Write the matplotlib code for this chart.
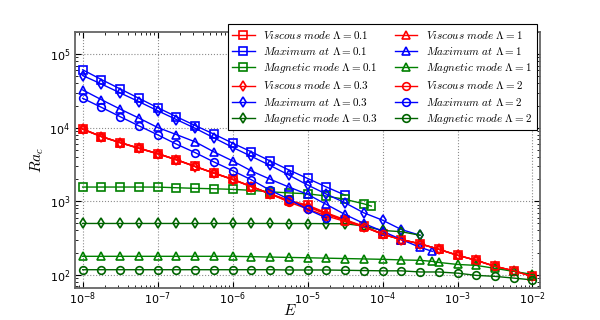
import matplotlib
matplotlib.use("Agg")
import matplotlib.pyplot as plt
from matplotlib.font_manager import FontProperties

# Ekman numbers (grid of the computations)
E_grid = [1e-8, 1.78e-8, 3.16e-8, 5.62e-8, 1e-7, 1.78e-7, 3.16e-7, 5.62e-7,
          1e-6, 1.78e-6, 3.16e-6, 5.62e-6, 1e-5, 1.78e-5, 3.16e-5, 5.62e-5,
          1e-4, 1.78e-4, 3.16e-4, 5.62e-4, 1e-3, 1.78e-3, 3.16e-3, 5.62e-3, 1e-2]

# Lambda = 0.1
visc_01 = [9570, 7580, 6280, 5260, 4440, 3670, 2970, 2420, 1985, 1583, 1262, 1025, 885,
           695, 561, 457, 359, 301, 264, 222, 184, 157, 130, 113, 95]
E_max_01 = E_grid[:15]
max_01 = [61200, 45100, 33700, 25100, 18700, 14100, 10700, 8180, 6160, 4690, 3530, 2660,
          2040, 1560, 1210]
E_mag_01 = E_grid[:16] + [7.08e-5]
mag_01 = [1558, 1558, 1558, 1558, 1555, 1524, 1496, 1476, 1449, 1405, 1343, 1297, 1262,
          1174, 1059, 921, 857]

# Lambda = 0.3
visc_03 = [9500, 7520, 6230, 5220, 4400, 3640, 2950, 2400, 1970, 1570, 1250, 1000, 860,
           680, 550, 452, 357, 300, 263, 222, 184, 157, 130, 113, 95]
E_max_03 = E_grid[:19]
max_03 = [51200, 39200, 29700, 22600, 17000, 12900, 9820, 7280, 5400, 4070, 3070, 2270,
          1660, 1250, 951, 695, 552, 412, 344]
E_mag_03 = E_grid[:19]
mag_03 = [498, 498, 498, 498, 498, 498, 498, 498, 498, 498, 498, 497, 497, 495, 494,
          460, 400, 385, 344]

# Lambda = 1
visc_1 = [9570, 7580, 6280, 5260, 4440, 3670, 2970, 2420, 1985, 1583, 1262, 1010, 840,
          665, 545, 450, 356, 300, 263, 222, 184, 157, 130, 113, 95]
E_max_1 = E_grid[:19] + [4.6e-4]
max_1 = [32600, 24000, 17900, 13500, 10060, 8050, 6420, 4690, 3530, 2580, 1990, 1560,
         1240, 904, 660, 498, 391, 301, 236, 208]
E_mag_1 = E_grid[:19] + [4.6e-4] + E_grid[19:]
mag_1 = [178, 178, 178, 178, 178, 178, 178, 178, 178, 176, 174, 172, 170, 168, 166,
         164, 162, 159, 157, 152, 147, 138, 134, 122, 111, 101]

# Lambda = 2
visc_2 = [9570, 7580, 6280, 5260, 4440, 3670, 2970, 2420, 1985, 1583, 1262, 975, 785,
          630, 530, 447, 355, 300, 263, 222, 184, 157, 130, 113, 95]
E_max_2 = E_grid[:14]
max_2 = [25100, 18900, 14100, 10600, 8000, 5970, 4580, 3420, 2600, 1954, 1410, 1068,
         773, 593]
mag_2 = [117, 117, 117, 117, 117, 117, 117, 117, 117, 117, 117, 116, 116, 116, 115,
         114, 113, 113, 109, 109, 105, 98, 95, 90, 85]

lambdas = ["0.1", "0.3", "1", "2"]
markers = ["s", "d", "^", "o"]
greens = ["g", "darkgreen", "g", "darkgreen"]

series = [
    (E_grid, visc_01, E_max_01, max_01, E_mag_01, mag_01),
    (E_grid, visc_03, E_max_03, max_03, E_mag_03, mag_03),
    (E_grid, visc_1, E_max_1, max_1, E_mag_1, mag_1),
    (E_grid, visc_2, E_max_2, max_2, E_grid, mag_2),
]

fig, ax = plt.subplots(figsize=(6, 3.2), dpi=100)
fig.subplots_adjust(left=0.125, right=0.9, bottom=0.1, top=0.9)

for lam, mk, gc, (ev, rv, em, rm, eg, rg) in zip(lambdas, markers, greens, series):
    style = dict(marker=mk, mfc="none", ms=5.5, mew=1.2, lw=1.0)
    ax.plot(ev, rv, color="r", label=r"$Viscous\ mode\ \Lambda=%s$" % lam, **style)
    ax.plot(em, rm, color="b", label=r"$Maximum\ at\ \Lambda=%s$" % lam, **style)
    ax.plot(eg, rg, color=gc, label=r"$Magnetic\ mode\ \Lambda=%s$" % lam, **style)

ax.set_xscale("log")
ax.set_yscale("log")
ax.set_xlim(7.9e-9, 1.26e-2)
ax.set_ylim(66, 2e5)

ax.grid(True, which="major", linestyle=":", color="0.55", lw=0.8)
ax.tick_params(which="both", direction="in", top=True, right=True, labelsize=8)
ax.tick_params(which="major", length=4)
ax.tick_params(axis="x", which="major", pad=2)
ax.tick_params(which="minor", length=2)
for sp in ax.spines.values():
    sp.set_color("0.4")
    sp.set_linewidth(1.3)

ax.set_xlabel(r"$E$", fontsize=11, math_fontfamily="cm", va="center")
ax.set_ylabel(r"$Ra_c$", fontsize=11, math_fontfamily="cm")
ax.xaxis.set_label_coords(0.463, -0.088)
ax.yaxis.set_label_coords(-0.062, 0.5)

leg = ax.legend(ncol=2, loc="upper right", bbox_to_anchor=(0.993, 1.03),
                prop=FontProperties(size=8, math_fontfamily="cm"),
                fancybox=False, framealpha=1, edgecolor="k",
                borderaxespad=0.0, columnspacing=1.5, handlelength=2.0,
                labelspacing=0.38)
leg.get_frame().set_linewidth(0.8)

fig.savefig("out.png", dpi=100)
